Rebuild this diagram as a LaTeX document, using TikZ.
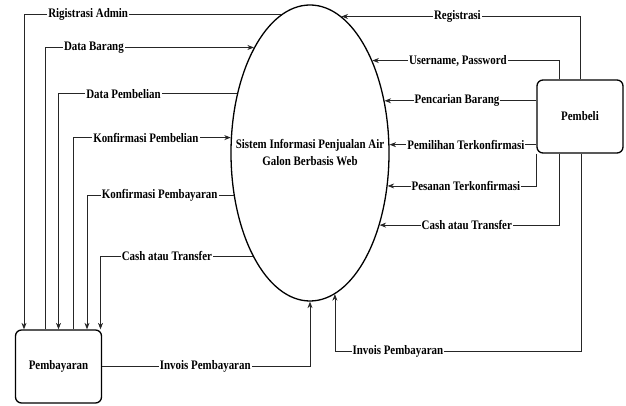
\documentclass[tikz,border=0pt]{standalone}
\usepackage{fontspec}
\setmainfont{Liberation Serif}[FakeStretch=0.84]
\usetikzlibrary{shapes.geometric,arrows.meta}

\begin{document}
\begin{tikzpicture}[x=1pt,y=1pt,
    flow/.style={draw=black!85,line width=0.8pt,-{Stealth[length=6.5pt,width=5pt]}},
    lbl/.style={fill=white,inner sep=1pt,font=\fontsize{13}{15}\selectfont\bfseries},
    entity/.style={rectangle,rounded corners=6pt,draw,line width=1.3pt,
        minimum width=86pt,minimum height=73pt,font=\fontsize{13}{15}\selectfont\bfseries}]
\useasboundingbox (0,0) rectangle (626,406);

% Process and the two entities
\node[ellipse,draw,line width=1.3pt,minimum width=158pt,minimum height=296pt,inner sep=0pt] (sistem) at (310,253) {};
\node[align=center,font=\fontsize{13}{17}\selectfont\bfseries] (sistxt) at (sistem) {Sistem Informasi Penjualan Air\\Galon Berbasis Web};
\node[entity] (pbl) at (580,289.5) {Pembeli};
\node[entity] (pay) at (58.5,39.5) {Pembayaran};

% Flows between Sistem and Pembayaran
\draw[flow] (sistem.102.3) -| node[lbl,pos=.375] {Rigistrasi Admin} ([xshift=-34.5pt]pay.north);
\draw[flow] ([xshift=-13.5pt]pay.north) |- node[lbl,pos=.617] {Data Barang} (sistem.118.4);
\draw[flow] (sistem.141.4) -| node[lbl,pos=.318] {Data Pembelian} (pay.north);
\draw[flow] ([xshift=14.5pt]pay.north) |- node[lbl,pos=.731] {Konfirmasi Pembelian} (sistem.169.9);
\draw[flow] (sistem.209) -| node[lbl,pos=.252] {Konfirmasi Pembayaran} ([xshift=28.5pt]pay.north);
\draw[flow] (sistem.241.6) -| node[lbl,pos=.282] {Cash atau Transfer} ([xshift=42pt]pay.north);
\draw[flow] (pay.east) -| node[lbl,pos=.248] {Invois Pembayaran} (sistem.south);

% Flows from Pembeli to Sistem
\draw[flow] (pbl.north) |- node[lbl,pos=.757] {Registrasi} (sistem.77.7);
\draw[flow] ([xshift=-21pt]pbl.north) |- node[lbl,pos=.771] {Username, Password} (sistem.56.5);
\draw[flow] (pbl.west |- sistem.35.7) -- node[lbl,pos=.523] {Pencarian Barang} (sistem.35.7);
\draw[flow] (pbl.west |- sistem.6.5) -- node[lbl,pos=.48] {Pemilihan Terkonfirmasi} (sistem.6.5);
\draw[flow] (pbl.south west) |- node[lbl,pos=.737] {Pesanan Terkonfirmasi} (sistem.337.5);
\draw[flow] ([xshift=-21pt]pbl.south) |- node[lbl,pos=.757] {Cash atau Transfer} (sistem.314.8);
\draw[flow] ([xshift=1pt]pbl.south) -- ++(0,-198) -| node[lbl,pos=.372] {Invois Pembayaran} (sistem.280.1);

\end{tikzpicture}
\end{document}
